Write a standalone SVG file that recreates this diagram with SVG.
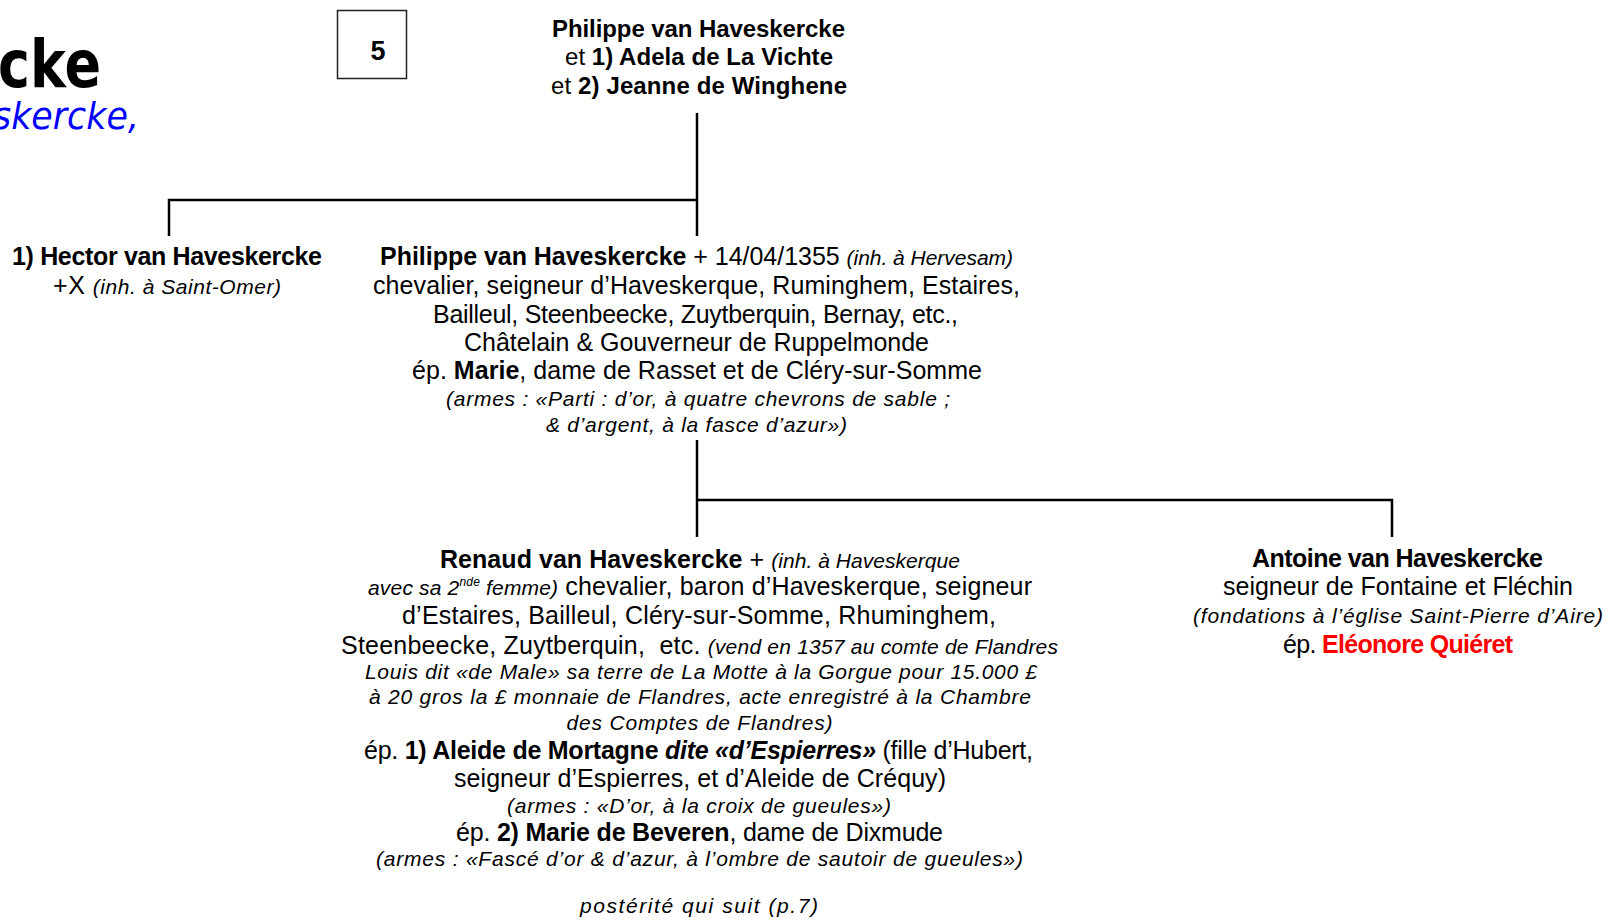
<svg xmlns="http://www.w3.org/2000/svg" width="1608" height="920" viewBox="0 0 1608 920">
<style>
.t{font-family:"Liberation Sans",Arial,sans-serif;fill:#000}
.n{font-size:25px}
.s{font-size:21px;font-style:italic}
.b{font-weight:bold}
.i{font-style:italic}
.c{stroke:#000;stroke-width:2.5;fill:none}
</style>
<rect width="1608" height="920" fill="#fff"/>
<g id="title">
<text x="-2" y="87" font-family="DejaVu Sans,Verdana,sans-serif" font-weight="bold" font-size="66" textLength="103" lengthAdjust="spacingAndGlyphs">cke</text>
<text x="-7" y="129" font-family="DejaVu Sans,Verdana,sans-serif" font-style="italic" font-size="38" fill="#0000ff" textLength="146" lengthAdjust="spacingAndGlyphs">skercke,</text>
</g>
<g id="page-box">
<rect x="337.5" y="10.5" width="69" height="68" fill="none" stroke="#222" stroke-width="1.5"/>
<text class="t b" x="378" y="60" font-size="27" text-anchor="middle">5</text>
</g>
<g id="connectors">
<path class="c" d="M697,113V236M169,236V200H697"/>
<path class="c" d="M697,440V537M697,500H1392V537"/>
</g>
<g id="n-philippe-parents">
<text class="t b" x="552" y="37" font-size="24" textLength="293">Philippe van Haveskercke</text>
<text class="t" x="565" y="65" font-size="24" textLength="268">et <tspan class="b">1) Adela de La Vichte</tspan></text>
<text class="t" x="551" y="94" font-size="24" textLength="296">et <tspan class="b">2) Jeanne de Winghene</tspan></text>
</g>
<g id="n-hector">
<text class="t n b" x="12" y="265" textLength="310">1) Hector van Haveskercke</text>
<text class="t n" x="53" y="294" textLength="228">+X <tspan class="s">(inh. à Saint-Omer)</tspan></text>
</g>
<g id="n-philippe">
<text class="t n" x="380" y="265" textLength="633"><tspan class="b">Philippe van Haveskercke</tspan> + 14/04/1355 <tspan class="s">(inh. à Hervesam)</tspan></text>
<text class="t n" x="373" y="294" textLength="647">chevalier, seigneur d’Haveskerque, Ruminghem, Estaires,</text>
<text class="t n" x="433" y="323" textLength="525">Bailleul, Steenbeecke, Zuytberquin, Bernay, etc.,</text>
<text class="t n" x="464" y="351" textLength="465">Châtelain &amp; Gouverneur de Ruppelmonde</text>
<text class="t n" x="412" y="379" textLength="570">ép. <tspan class="b">Marie</tspan>, dame de Rasset et de Cléry-sur-Somme</text>
<text class="t s" x="446" y="406" textLength="504">(armes : «Parti : d’or, à quatre chevrons de sable ;</text>
<text class="t s" x="546" y="432" textLength="301">&amp; d’argent, à la fasce d’azur»)</text>
</g>
<g id="n-renaud">
<text class="t n" x="440" y="568" textLength="520"><tspan class="b">Renaud van Haveskercke</tspan> + <tspan class="s">(inh. à Haveskerque</tspan></text>
<text class="t n" x="368" y="595" textLength="664"><tspan class="s">avec sa 2<tspan font-size="12" dy="-9">nde</tspan><tspan dy="9"> femme)</tspan></tspan> chevalier, baron d’Haveskerque, seigneur</text>
<text class="t n" x="402" y="624" textLength="594">d’Estaires, Bailleul, Cléry-sur-Somme, Rhuminghem,</text>
<text class="t n" x="341" y="653.5" textLength="717">Steenbeecke, Zuytberquin,&#160; etc. <tspan class="s">(vend en 1357 au comte de Flandres</tspan></text>
<text class="t s" x="365" y="679" textLength="672">Louis dit «de Male» sa terre de La Motte à la Gorgue pour 15.000 £</text>
<text class="t s" x="369" y="704" textLength="662">à 20 gros la £ monnaie de Flandres, acte enregistré à la Chambre</text>
<text class="t s" x="566.5" y="729.5" textLength="266">des Comptes de Flandres)</text>
<text class="t n" x="364" y="759" textLength="669">ép. <tspan class="b">1) Aleide de Mortagne <tspan class="i">dite «d’Espierres»</tspan></tspan> (fille d’Hubert,</text>
<text class="t n" x="454" y="787" textLength="492">seigneur d’Espierres, et d’Aleide de Créquy)</text>
<text class="t s" x="507" y="812.5" textLength="384">(armes : «D’or, à la croix de gueules»)</text>
<text class="t n" x="456" y="841" textLength="487">ép. <tspan class="b">2) Marie de Beveren</tspan>, dame de Dixmude</text>
<text class="t s" x="376" y="866" textLength="647">(armes : «Fascé d’or &amp; d’azur, à l’ombre de sautoir de gueules»)</text>
<text class="t s" x="580" y="913" textLength="238">postérité qui suit (p.7)</text>
</g>
<g id="n-antoine">
<text class="t n b" x="1252" y="567" textLength="291">Antoine van Haveskercke</text>
<text class="t n" x="1223" y="595" textLength="350">seigneur de Fontaine et Fléchin</text>
<text class="t s" x="1193" y="623" textLength="410">(fondations à l’église Saint-Pierre d’Aire)</text>
<text class="t n" x="1283" y="653" textLength="230">ép. <tspan class="b" fill="#ff0000">Eléonore Quiéret</tspan></text>
</g>
</svg>
